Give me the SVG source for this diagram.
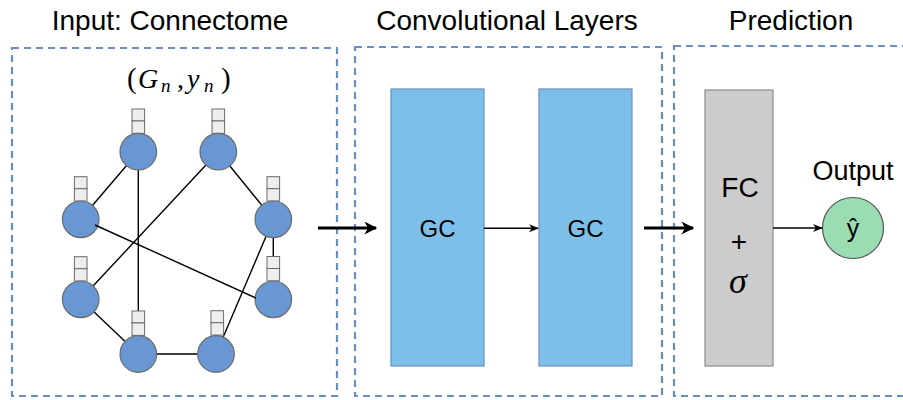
<svg xmlns="http://www.w3.org/2000/svg" width="903" height="400" viewBox="0 0 903 400">
<defs>
<style>
.title{font-family:"Liberation Sans",Arial,sans-serif;font-size:28px;fill:#000;text-anchor:middle}
.lbl{font-family:"Liberation Sans",Arial,sans-serif;fill:#000;text-anchor:middle}
.math{font-family:"Liberation Serif","Times New Roman",serif;fill:#000;font-style:italic}
.frame{fill:none;stroke:#6c8ebf;stroke-width:2.2;stroke-dasharray:7 5}
.node{fill:#6897d3;stroke:#6b6b6b;stroke-width:1.2}
.feat{fill:#eeeeee;stroke:#6b6b6b;stroke-width:1}
.edge{stroke:#000;stroke-width:1.4;fill:none}
.gc{fill:#7cc0ea;stroke:#6c8ebf;stroke-width:1.2}
.thick{stroke:#000;stroke-width:3;fill:none}
.thin{stroke:#000;stroke-width:1.5;fill:none}
</style>
<marker id="ahThick" viewBox="0 0 10 10" refX="9" refY="5" markerWidth="15" markerHeight="13" orient="auto" markerUnits="userSpaceOnUse">
<path d="M0,0 L10,5 L0,10 L3,5 Z" fill="#000"/>
</marker>
<marker id="ahThin" viewBox="0 0 10 10" refX="9" refY="5" markerWidth="10" markerHeight="10" orient="auto" markerUnits="userSpaceOnUse">
<path d="M0,1 L10,5 L0,9 L3,5 Z" fill="#000"/>
</marker>
<g id="fi"><rect class="feat" x="0" y="0" width="12.6" height="12"/><rect class="feat" x="0" y="12" width="12.6" height="12.4"/></g>
</defs>

<rect width="903" height="400" fill="#fff"/>

<g id="frames">
<rect class="frame" x="12" y="48" width="325" height="348"/>
<rect class="frame" x="355" y="47" width="307" height="349"/>
<rect class="frame" x="674" y="46" width="240" height="350"/>
</g>

<g id="titles">
<text class="title" x="170" y="30">Input: Connectome</text>
<text class="title" x="507" y="30">Convolutional Layers</text>
<text class="title" x="791" y="30">Prediction</text>
</g>

<g id="graph-label">
<text class="math" y="88"><tspan x="127" font-style="normal" font-size="29">(</tspan><tspan x="138" font-size="28">G</tspan><tspan x="161" y="92" font-size="19">n</tspan><tspan x="177" y="88" font-style="normal" font-size="28">,</tspan><tspan x="187" font-size="28">y</tspan><tspan x="204" y="92" font-size="19">n</tspan><tspan x="221" y="88" font-style="normal" font-size="29">)</tspan></text>
</g>

<g id="graph-edges">
<line class="edge" x1="138.3" y1="151.7" x2="80.7" y2="219.3"/>
<line class="edge" x1="138.3" y1="151.7" x2="138.3" y2="340"/>
<line class="edge" x1="218.3" y1="151.7" x2="80.7" y2="299.3"/>
<line class="edge" x1="218.3" y1="151.7" x2="273.3" y2="219.3"/>
<line class="edge" x1="273.3" y1="219.3" x2="273.3" y2="260"/>
<line class="edge" x1="273.3" y1="219.3" x2="216" y2="354"/>
<line class="edge" x1="80.7" y1="299.3" x2="138.3" y2="354"/>
<line class="edge" x1="138.3" y1="354" x2="216" y2="354"/>
</g>

<g id="n1"><use href="#fi" x="132" y="109"/><circle class="node" cx="138.3" cy="151.7" r="18.3"/></g>
<g id="n2"><use href="#fi" x="212" y="109"/><circle class="node" cx="218.3" cy="151.7" r="18.3"/></g>
<g id="n3"><use href="#fi" x="74.4" y="176.7"/><circle class="node" cx="80.7" cy="219.3" r="18.3"/></g>
<g id="n4"><use href="#fi" x="267" y="176.7"/><circle class="node" cx="273.3" cy="219.3" r="18.3"/></g>
<g id="n5"><use href="#fi" x="74.4" y="256.7"/><circle class="node" cx="80.7" cy="299.3" r="18.3"/></g>
<g id="n6"><use href="#fi" x="267" y="256.5"/><circle class="node" cx="273.3" cy="299.3" r="18.3"/></g>
<g id="n7"><use href="#fi" x="132" y="311"/><circle class="node" cx="138.3" cy="354" r="18.3"/></g>
<g id="n8"><use href="#fi" x="211" y="310.7"/><circle class="node" cx="216" cy="354" r="18.3"/></g>

<g id="graph-edge-over">
<line class="edge" x1="95" y1="225" x2="256" y2="298"/>
</g>

<g id="gc1"><rect class="gc" x="391" y="89" width="93" height="277"/><text class="lbl" x="437.5" y="237" font-size="24">GC</text></g>
<g id="gc2"><rect class="gc" x="539" y="89" width="93" height="277"/><text class="lbl" x="585.5" y="237" font-size="24">GC</text></g>

<g id="fc"><rect x="705" y="90" width="68" height="276" fill="#cccccc" stroke="#8c8c8c" stroke-width="1.2"/>
<text class="lbl" x="740" y="197" font-size="28">FC</text>
<text class="lbl" x="739" y="251" font-size="28">+</text>
<text class="math" x="738" y="293" font-size="36" text-anchor="middle">σ</text>
</g>

<g id="output"><text class="lbl" x="853" y="180" font-size="27">Output</text>
<circle cx="853" cy="228" r="30.5" fill="#9addb1" stroke="#555" stroke-width="1.2"/>
<text class="lbl" x="853" y="237" font-size="25">ŷ</text>
</g>

<g id="connectors">
<line class="thick" x1="318" y1="228" x2="376" y2="228" marker-end="url(#ahThick)"/>
<line class="thin" x1="484" y1="228.3" x2="538" y2="228.3" marker-end="url(#ahThin)"/>
<line class="thick" x1="644" y1="228" x2="693" y2="228" marker-end="url(#ahThick)"/>
<line class="thin" x1="773" y1="228" x2="822" y2="228" marker-end="url(#ahThin)"/>
</g>
</svg>
